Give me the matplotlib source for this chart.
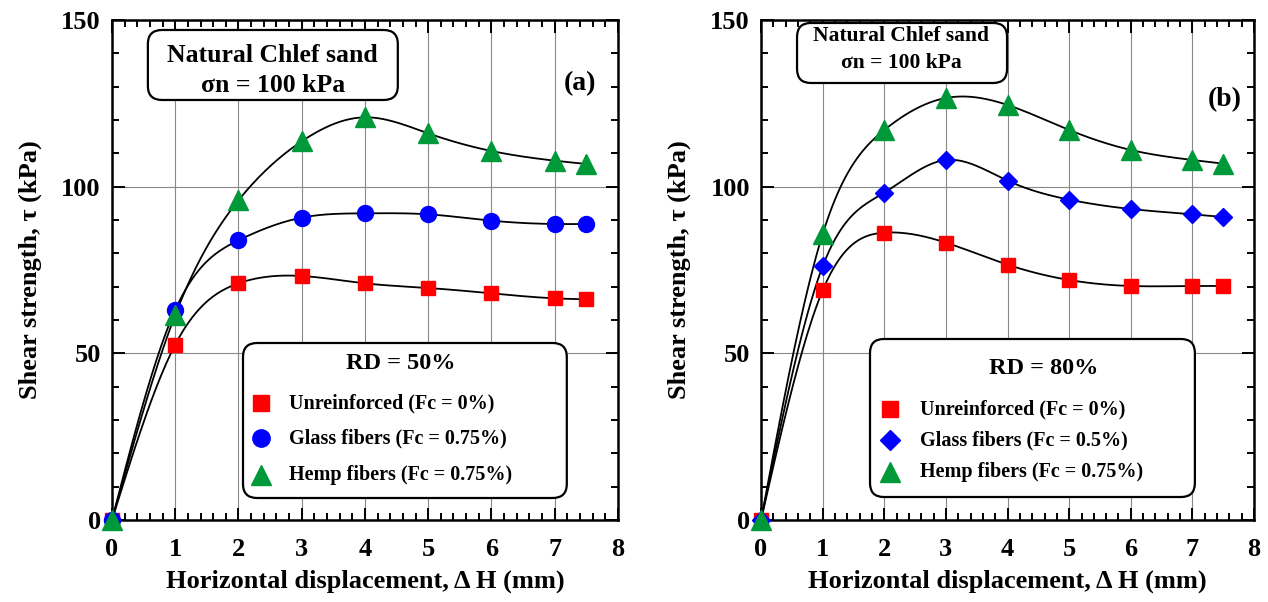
import numpy as np
import matplotlib
matplotlib.use("Agg")
import matplotlib.pyplot as plt
from matplotlib.patches import FancyBboxPatch

plt.rcParams["font.family"] = ["Liberation Serif", "DejaVu Serif"]
plt.rcParams["font.weight"] = "bold"

# displacement (mm)
dh = [0, 1, 2, 3, 4, 5, 6, 7, 7.5]

# RD = 50 %
unre_50 = [0, 52.6, 71.0, 73.2, 71.0, 69.6, 68.0, 66.5, 66.2]
glass_50 = [0, 63.0, 83.9, 90.7, 92.0, 91.7, 89.8, 88.8, 88.8]
hemp_50 = [0, 61.5, 95.9, 113.6, 120.8, 116.0, 110.7, 107.8, 106.8]

# RD = 80 %
unre_80 = [0, 68.9, 86.2, 83.2, 76.6, 72.0, 70.2, 70.2, 70.2]
glass_80 = [0, 76.1, 98.2, 108.0, 101.8, 96.1, 93.3, 91.7, 90.9]
hemp_80 = [0, 85.8, 117.0, 126.6, 124.5, 117.0, 111.0, 108.0, 106.9]

labels_50 = ["Unreinforced (Fc = 0%)", "Glass fibers (Fc = 0.75%)", "Hemp fibers (Fc = 0.75%)"]
labels_80 = ["Unreinforced (Fc = 0%)", "Glass fibers (Fc = 0.5%)", "Hemp fibers (Fc = 0.75%)"]

red = "#ff0000"
blue = "#0000ff"
green = "#00993a"
msize = {"s": 10, "o": 11.5, "^": 14, "D": 9}


def spline(x, y, n=300):
    # natural cubic spline through the measured points
    x = np.asarray(x, float)
    y = np.asarray(y, float)
    k = len(x)
    h = np.diff(x)
    A = np.zeros((k, k))
    b = np.zeros(k)
    A[0, 0] = A[-1, -1] = 1
    for i in range(1, k - 1):
        A[i, i - 1] = h[i - 1]
        A[i, i] = 2 * (h[i - 1] + h[i])
        A[i, i + 1] = h[i]
        b[i] = 6 * ((y[i + 1] - y[i]) / h[i] - (y[i] - y[i - 1]) / h[i - 1])
    M = np.linalg.solve(A, b)
    xs = np.linspace(x[0], x[-1], n)
    idx = np.clip(np.searchsorted(x, xs) - 1, 0, k - 2)
    x0, x1 = x[idx], x[idx + 1]
    hh = x1 - x0
    t0 = x1 - xs
    t1 = xs - x0
    ys = (M[idx] * t0 ** 3 + M[idx + 1] * t1 ** 3) / (6 * hh) \
        + (y[idx] / hh - M[idx] * hh / 6) * t0 \
        + (y[idx + 1] / hh - M[idx + 1] * hh / 6) * t1
    return xs, ys


def rbox(ax, x0, y0, x1, y1):
    p = FancyBboxPatch((x0, y0), x1 - x0, y1 - y0, boxstyle="round,pad=0,rounding_size=0.028",
                       transform=ax.transAxes, fc="white", ec="black", lw=1.6, zorder=6, clip_on=False)
    ax.add_patch(p)


def panel(ax, series, markers, labels, rd, tag, info, legend):
    cols = [red, blue, green]
    for y in series:
        xs, ys = spline(dh, y)
        ax.plot(xs, ys, color="black", lw=1.3, zorder=3)
    for y, m, c in zip(series, markers, cols):
        ax.plot(dh, y, ls="none", marker=m, ms=msize[m], color=c, mec=c, zorder=4, clip_on=False)

    ax.set_xlim(0, 8)
    ax.set_ylim(0, 150)
    ax.set_xticks(range(0, 9))
    ax.set_yticks([0, 50, 100, 150])
    ax.set_xticks(np.arange(0, 8.01, 0.2), minor=True)
    ax.set_yticks(np.arange(0, 151, 10), minor=True)
    ax.tick_params(which="both", direction="in", top=True, right=True, width=1.4)
    ax.tick_params(which="major", length=9, labelsize=19)
    ax.tick_params(axis="x", which="major", pad=13)
    ax.tick_params(axis="y", which="major", pad=8)
    ax.tick_params(which="minor", length=5)
    ax.grid(True, which="major", color="#888888", lw=0.8)
    for sp in ax.spines.values():
        sp.set_linewidth(1.8)
    ax.set_axisbelow(True)

    ax.set_xlabel("Horizontal displacement, \u0394\u2009H (mm)", fontsize=19, fontweight="bold", labelpad=6)
    ax.set_ylabel("Shear strength, \u03c4 (kPa)", fontsize=19, fontweight="bold", labelpad=14)

    # sand / normal stress box
    (bx0, by0, bx1, by1), tx, ty1, ty2, fs = info
    rbox(ax, bx0, by0, bx1, by1)
    ax.text(tx, ty1, "Natural Chlef sand", transform=ax.transAxes, ha="center", va="center",
            fontsize=fs, fontweight="bold", zorder=7)
    ax.text(tx, ty2, "\u03c3n = 100 kPa", transform=ax.transAxes, ha="center", va="center",
            fontsize=fs, fontweight="bold", zorder=7)
    ax.text(tag[1], tag[2], tag[0], transform=ax.transAxes, ha="center", va="center",
            fontsize=20, fontweight="bold", zorder=6)

    # legend box
    (lx0, ly0, lx1, ly1), (rtx, rty), mx, lx, rows = legend
    rbox(ax, lx0, ly0, lx1, ly1)
    ax.text(rtx, rty, rd, transform=ax.transAxes, ha="center", va="center",
            fontsize=17.5, fontweight="bold", zorder=7)
    for m, c, lab, ry in zip(markers, cols, labels, rows):
        ax.plot([mx], [ry], ls="none", marker=m, ms=msize[m] + 1, color=c, mec=c,
                transform=ax.transAxes, zorder=7, clip_on=False)
        ax.text(lx, ry, lab, transform=ax.transAxes, ha="left", va="center",
                fontsize=14.5, fontweight="bold", zorder=7)


fig = plt.figure(figsize=(12.68, 6.02), dpi=100)
ax1 = fig.add_axes([0.0883, 0.1362, 0.399, 0.8306])
ax2 = fig.add_axes([0.6002, 0.1362, 0.3888, 0.8306])

panel(ax1, [unre_50, glass_50, hemp_50], ["s", "o", "^"], labels_50, "RD = 50%",
      ("(a)", 0.925, 0.872),
      ((0.071, 0.84, 0.565, 0.98), 0.318, 0.928, 0.868, 18.5),
      ((0.259, 0.044, 0.899, 0.354), (0.571, 0.314), 0.294, 0.35, [0.234, 0.164, 0.09]))
panel(ax2, [unre_80, glass_80, hemp_80], ["s", "D", "^"], labels_80, "RD = 80%",
      ("(b)", 0.941, 0.84),
      ((0.073, 0.874, 0.499, 0.994), 0.284, 0.968, 0.914, 15.5),
      ((0.221, 0.046, 0.880, 0.362), (0.574, 0.304), 0.262, 0.3225, [0.222, 0.16, 0.096]))

fig.savefig("out.png", dpi=100)
